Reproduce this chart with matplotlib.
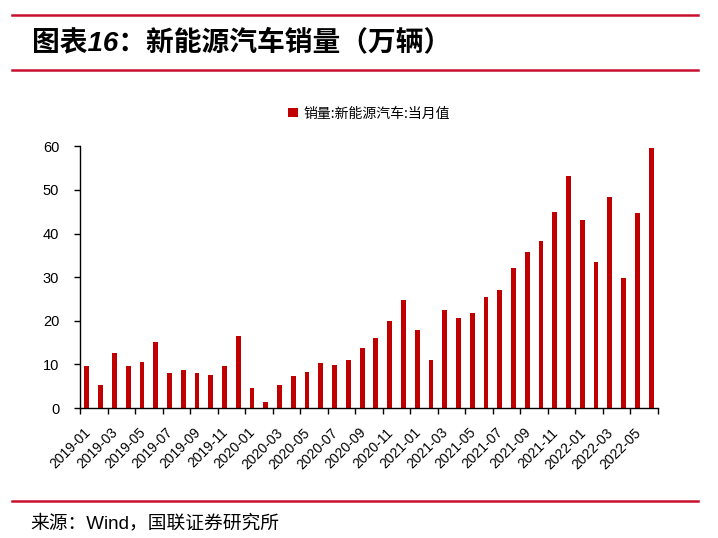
"""新能源汽车销量（万辆）月度柱状图."""

import matplotlib.pyplot as plt
import matplotlib.transforms as mtransforms
import numpy as np
from matplotlib.lines import Line2D

plt.rcParams["font.family"] = ["Liberation Sans", "Noto Sans CJK SC", "DejaVu Sans"]

MONTHS = [f"{y}-{m:02d}" for y in range(2019, 2023) for m in range(1, 13)][:42]
SALES = [
    9.6, 5.3, 12.5, 9.7, 10.5, 15.2, 8.0, 8.6, 8.0, 7.6, 9.6, 16.4,
    4.6, 1.3, 5.3, 7.3, 8.3, 10.4, 9.9, 11.0, 13.8, 16.0, 20.0, 24.8,
    17.9, 10.9, 22.5, 20.6, 21.7, 25.5, 27.1, 32.0, 35.7, 38.3, 45.0, 53.1,
    43.1, 33.4, 48.4, 29.9, 44.6, 59.5,
]
Y_TICKS = [0, 10, 20, 30, 40, 50, 60]

TITLE = "图表16：新能源汽车销量（万辆）"
LEGEND_LABEL = "销量:新能源汽车:当月值"
SOURCE = "来源：Wind，国联证券研究所"

BAR_COLOR = "#C00000"
RULE_COLOR = "#C8102E"

fig = plt.figure(figsize=(7.18, 5.38), dpi=100)
W, H = 718, 538


def fx(px):
    return px / W


def fy(py):
    return 1 - py / H


# red rules
for y in (15, 70, 501):
    fig.add_artist(Line2D([fx(12), fx(698)], [fy(y), fy(y)], color=RULE_COLOR,
                          linewidth=1.8, transform=fig.transFigure))

fig.text(fx(32), fy(43), TITLE, fontsize=20, fontweight="bold", fontstyle="italic",
         va="center", ha="left", family=["Liberation Sans", "Noto Sans CJK SC"])
fig.text(fx(30), fy(523), SOURCE, fontsize=13.5, va="center", ha="left")

ax = fig.add_axes([fx(80), fy(408), fx(658) - fx(80), fy(146.3) - fy(408)])
x = np.arange(len(SALES))
ax.bar(x, SALES, width=0.35, color=BAR_COLOR, label=LEGEND_LABEL)

ax.set_xlim(-0.5, len(SALES) - 0.5)
ax.set_ylim(0, 60)
ax.set_yticks(Y_TICKS)
ax.tick_params(axis="y", length=4, width=1, pad=11, labelsize=10.5)
ax.tick_params(axis="x", length=4, width=1, labelsize=10)

tick_pos = np.arange(0, len(SALES) + 1, 2) - 0.5
ax.set_xticks(tick_pos)
ax.set_xticklabels([MONTHS[i] if i < len(MONTHS) else "" for i in range(0, len(SALES) + 1, 2)],
                   rotation=45, ha="right", va="center", rotation_mode="anchor")
offset = mtransforms.ScaledTranslation(8 / 100, -12 / 100, fig.dpi_scale_trans)
for lbl in ax.get_xticklabels():
    lbl.set_transform(lbl.get_transform() + offset)

for side in ("top", "right"):
    ax.spines[side].set_visible(False)
for side in ("left", "bottom"):
    ax.spines[side].set_linewidth(1)

ax.legend(loc="upper center", bbox_to_anchor=(0.5, 1.2), frameon=False,
          handlelength=0.7, handleheight=0.7, handletextpad=0.4,
          prop={"family": ["Noto Sans CJK SC"], "size": 10})

fig.savefig("out.png", dpi=100)
